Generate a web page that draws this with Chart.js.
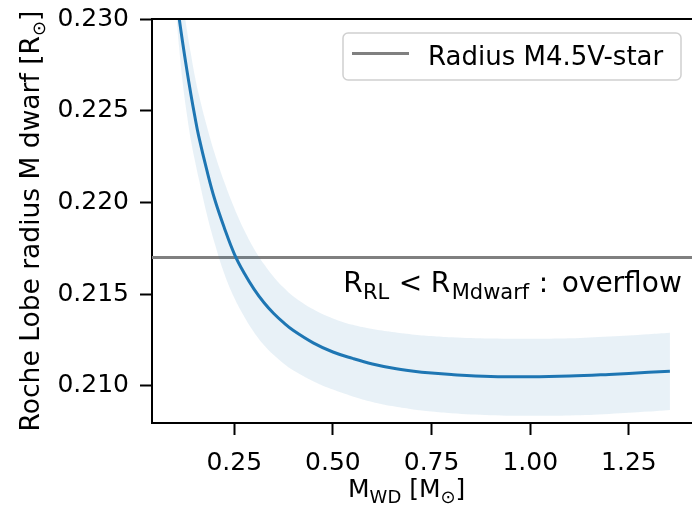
<!DOCTYPE html>
<html>
<head>
<meta charset="utf-8">
<script src="https://cdn.jsdelivr.net/npm/chart.js@4/dist/chart.umd.min.js"></script>
<style>
  html, body { margin: 0; padding: 0; background: #fff; overflow: hidden; }
  #wrap { width: 692px; height: 512px; }
</style>
</head>
<body>
<div id="wrap"><canvas id="chart" width="692" height="512"></canvas></div>
<script>
// Roche lobe radius of the M dwarf vs white dwarf mass

// white dwarf mass [Msun]
const massWD = [0.10, 0.11, 0.12, 0.13, 0.14, 0.15, 0.16, 0.18, 0.20, 0.225, 0.25, 0.275, 0.30, 0.325, 0.35, 0.375,
                0.40, 0.45, 0.50, 0.55, 0.60, 0.65, 0.70, 0.75, 0.80, 0.90, 1.00, 1.10, 1.20, 1.30, 1.354];
// Roche lobe radius [Rsun], central curve and band edges
const rocheMid  = [0.2318, 0.2301, 0.2286, 0.2272, 0.2259, 0.2247, 0.2236, 0.2218, 0.2202, 0.2186, 0.2172, 0.21615, 0.21528, 0.21455, 0.21395, 0.21345,
                   0.21302, 0.21235, 0.21185, 0.2115, 0.2112, 0.21098, 0.21082, 0.2107, 0.21062, 0.21052, 0.2105, 0.21054, 0.21063, 0.21074, 0.2108];
const rocheHigh = [0.2345, 0.2326, 0.2309, 0.2294, 0.2281, 0.2269, 0.2259, 0.2242, 0.2227, 0.2211, 0.2197, 0.2185, 0.21748, 0.21664, 0.21594, 0.21536,
                   0.21488, 0.21418, 0.21368, 0.21333, 0.2131, 0.21294, 0.21281, 0.21272, 0.21265, 0.21258, 0.21257, 0.2126, 0.2127, 0.21282, 0.2129];
const rocheLow  = [0.2310, 0.2285, 0.2264, 0.2248, 0.2234, 0.2223, 0.2213, 0.2194, 0.2178, 0.2161, 0.2148, 0.21378, 0.21293, 0.21223, 0.21168, 0.21122,
                   0.21084, 0.21026, 0.2098, 0.20943, 0.20913, 0.2089, 0.20873, 0.2086, 0.20851, 0.2084, 0.20837, 0.20839, 0.20847, 0.2086, 0.20869];
const radiusStar = 0.217;   // radius of M4.5V star

const xTicks = [0.25, 0.50, 0.75, 1.00, 1.25];
const yTicks = [0.210, 0.215, 0.220, 0.225, 0.230];
const xMin = 0.0415, xMax = 1.41;
const yMin = 0.20798, yMax = 0.230;

const FONT = 'DejaVu Sans';
Chart.defaults.font.family = FONT;
Chart.defaults.font.size = 25;
Chart.defaults.color = '#000';

function pts(ys) { return massWD.map((m, i) => ({x: m, y: ys[i]})); }

// text pieces, subscripts smaller and lowered; dx = fixed offset if given
function richText(ctx, parts, x, y, size, subSize) {
  let cx = x;
  parts.forEach(p => {
    let s = p.sub ? subSize : size;
    ctx.font = s + 'px "' + FONT + '"';
    let px = p.dx !== undefined ? x + p.dx : cx;
    ctx.fillText(p.t, px, p.sub ? y + size * 0.22 : y);
    cx = px + ctx.measureText(p.t).width;
  });
  return cx - x;
}
function richWidth(ctx, parts, size, subSize) {
  let w = 0;
  parts.forEach(p => {
    ctx.font = (p.sub ? subSize : size) + 'px "' + FONT + '"';
    w += ctx.measureText(p.t).width;
  });
  return w;
}

const extras = {
  id: 'extras',
  afterDraw(chart) {
    const ctx = chart.ctx, a = chart.chartArea;
    const xs = chart.scales.x, ys = chart.scales.y;
    ctx.save();
    // top spine
    ctx.strokeStyle = '#000';
    ctx.lineWidth = 2;
    ctx.beginPath();
    ctx.moveTo(a.left - 1, a.top);
    ctx.lineTo(chart.width, a.top);
    ctx.stroke();

    ctx.fillStyle = '#000';
    ctx.textBaseline = 'alphabetic';
    ctx.textAlign = 'left';

    // annotation
    const ann = [{t: 'R', dx: 0}, {t: 'RL', sub: true, dx: 19.7}, {t: '<', dx: 55.5}, {t: 'R', dx: 87.5},
                 {t: 'Mdwarf', sub: true, dx: 108.5}, {t: ':', dx: 195.5}, {t: 'overflow', dx: 218.5}];
    richText(ctx, ann, xs.getPixelForValue(0.526), ys.getPixelForValue(0.2151), 28, 21);

    // x title
    const xt = [{t: 'M'}, {t: 'WD', sub: true}, {t: ' [M'}, {t: '\u2299', sub: true}, {t: ']'}];
    const xw = richWidth(ctx, xt, 25, 18);
    richText(ctx, xt, 406.7 - xw / 2, 497, 25, 18);

    // y title
    const yt = [{t: 'Roche Lobe radius M dwarf [R'}, {t: '\u2299', sub: true}, {t: ']'}];
    const yw = richWidth(ctx, yt, 26.5, 18);
    ctx.save();
    ctx.translate(39, (a.top + a.bottom) / 2);
    ctx.rotate(-Math.PI / 2);
    richText(ctx, yt, -yw / 2, 0, 26.5, 18);
    ctx.restore();

    // legend
    const ds = chart.data.datasets[3];
    const lx = 343, ly = 33, lw = 338, lh = 47;
    ctx.fillStyle = 'rgba(255,255,255,0.8)';
    ctx.strokeStyle = '#d0d0d0';
    ctx.lineWidth = 1.5;
    ctx.beginPath();
    ctx.roundRect(lx, ly, lw, lh, 5);
    ctx.fill();
    ctx.stroke();
    ctx.strokeStyle = ds.borderColor;
    ctx.lineWidth = ds.borderWidth;
    ctx.beginPath();
    ctx.moveTo(lx + 9, ly + 20.5);
    ctx.lineTo(lx + 66, ly + 20.5);
    ctx.stroke();
    ctx.fillStyle = '#000';
    ctx.font = '26px "' + FONT + '"';
    ctx.fillText(ds.label, lx + 85, ly + 32);
    ctx.restore();
  }
};

const axisCommon = {
  grid: { drawOnChartArea: false, drawTicks: true, tickLength: 12, tickWidth: 2, tickColor: '#000' },
  border: { color: '#000', width: 2 }
};

new Chart(document.getElementById('chart'), {
  type: 'line',
  data: {
    datasets: [
      { label: 'band high', data: pts(rocheHigh), borderWidth: 0, pointRadius: 0,
        backgroundColor: 'rgba(31,119,180,0.1)', fill: '+1', tension: 0.4 },
      { label: 'band low', data: pts(rocheLow), borderWidth: 0, pointRadius: 0,
        fill: false, tension: 0.4 },
      { label: 'Roche lobe', data: pts(rocheMid), borderColor: '#1f77b4', borderWidth: 3,
        pointRadius: 0, fill: false, tension: 0.4 },
      { label: 'Radius M4.5V-star', data: [{x: xMin, y: radiusStar}, {x: xMax, y: radiusStar}],
        borderColor: '#808080', borderWidth: 3, pointRadius: 0, fill: false }
    ]
  },
  options: {
    responsive: false,
    animation: false,
    layout: { padding: { top: 19, right: 0, left: 0, bottom: 0 } },
    plugins: { legend: { display: false }, tooltip: { enabled: false } },
    scales: {
      x: Object.assign({
        type: 'linear', min: xMin, max: xMax,
        afterBuildTicks: s => { s.ticks = xTicks.map(v => ({value: v})); },
        afterFit: s => { s.height = 89; s.paddingLeft = 0; s.paddingRight = 0; },
        ticks: { padding: 13, maxRotation: 0, callback: v => v.toFixed(2) }
      }, axisCommon),
      y: Object.assign({
        min: yMin, max: yMax,
        afterBuildTicks: s => { s.ticks = yTicks.map(v => ({value: v})); },
        afterFit: s => { s.width = 152; s.paddingTop = 0; s.paddingBottom = 0; },
        ticks: { padding: 11, callback: v => v.toFixed(3) }
      }, axisCommon)
    }
  },
  plugins: [extras]
});
</script>
</body>
</html>
